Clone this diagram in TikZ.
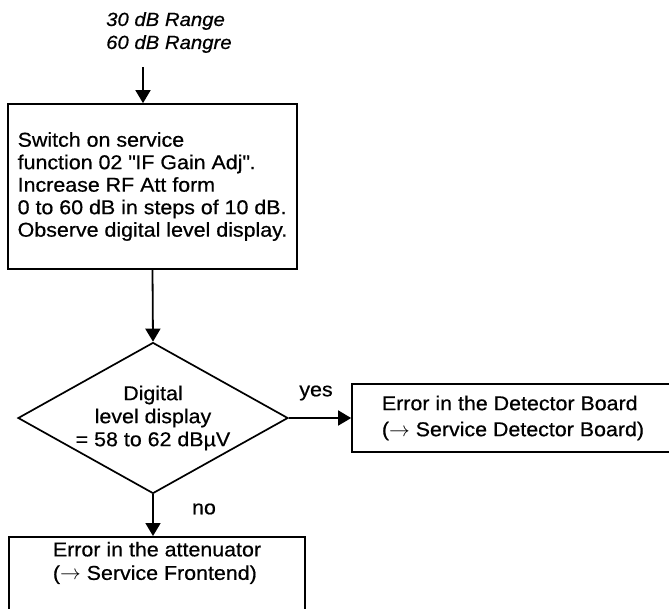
\documentclass[tikz,border=0pt]{standalone}
\usepackage{fontspec}
\setmainfont{Liberation Sans}[FakeStretch=1.07,FakeBold=0.6]
\usetikzlibrary{arrows.meta,shapes.geometric}
\tikzset{flowchart/.style={x=1pt,y=-1pt,font=\fontsize{20}{22}\selectfont},
  stepbox/.style={draw,rectangle,line width=1.7pt,align=left},
  decision/.style={draw,diamond,line width=1.7pt,align=center,inner sep=-4pt,
    shape aspect=1.79,minimum width=270pt,minimum height=151pt},
  flow/.style={line width=1.8pt,-{Triangle[length=13pt,width=15pt]}},
  lbl/.style={inner sep=0pt}}

\begin{document}
\begin{tikzpicture}[flowchart]
    \useasboundingbox (0,0) rectangle (669,608);
    \node[lbl,align=left,anchor=north west,font=\fontsize{19}{23}\selectfont\itshape] (range) at (106,12) {30 dB Range\\60 dB Rangre};
    \node[stepbox,minimum width=289pt,minimum height=165pt,font=\fontsize{20}{22.5}\selectfont] (switch) at (152.5,186.5)
      {Switch on service\\function 02 \textquotedbl IF Gain Adj\textquotedbl.\\Increase RF Att form\\0 to 60 dB in steps of 10 dB.\\Observe digital level display.};
    \node[decision,font=\fontsize{20}{23}\selectfont] (level) at (153,418) {Digital\\level display\\= 58 to 62 dBµV};
    \node[stepbox,minimum width=322pt,minimum height=68pt,font=\fontsize{20}{26}\selectfont] (detector) at (513,418)
      {Error in the Detector Board\\($\rightarrow$ Service Detector Board)};
    \node[stepbox,anchor=north,inner ysep=5pt,minimum width=296pt,font=\fontsize{20}{23.5}\selectfont] (atten) at (157,536)
      {Error in the attenuator\\($\rightarrow$ Service Frontend)\rule[-30pt]{0pt}{30pt}};
    \coordinate (in) at (143,67);
    \draw[flow] (in) -- (in |- switch.north);
    \draw[flow] (switch.south) -- (level.north);
    \draw[flow] (level.east) -- (detector.west);
    \draw[flow] (level.south) -- (level.south |- atten.north);
    \node[lbl] (yes) at (316,393) {yes};
    \node[lbl] (no) at (204,509) {no};
\end{tikzpicture}
\end{document}
